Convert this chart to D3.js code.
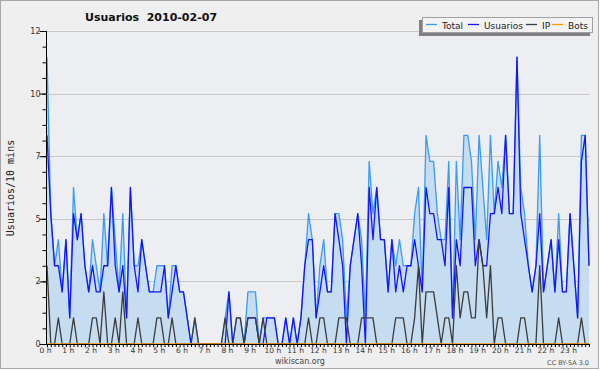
<!DOCTYPE html>
<html>
<head>
<meta charset="utf-8">
<script src="https://cdn.jsdelivr.net/npm/d3@7"></script>
<style>
  body { margin: 0; background: #ffffff; }
  svg text { font-family: "DejaVu Sans", sans-serif; }
</style>
</head>
<body>
<div id="chart"></div>
<script>
// one value every 10 minutes, 144 per day
const total = [
  11, 5, 3, 4, 2, 4, 1, 6, 4, 5,  3, 2, 4, 3, 2, 5, 3, 6, 4, 2,
  5, 1, 6, 3, 3, 4, 3, 2, 2, 3,  3, 3, 1, 3, 3, 2, 2, 1, 0, 1,
  0, 0, 0, 0, 0, 0, 0, 1, 2, 0,  1, 1, 0, 2, 2, 2, 0, 1, 1, 1,
  1, 0, 0, 1, 0, 1, 0, 1, 3, 5,  4, 1, 3, 4, 2, 2, 5, 5, 4, 1,
  3, 4, 5, 4, 1, 7, 5, 6, 4, 4,  2, 4, 3, 4, 3, 3, 3, 5, 6, 2,
  8, 7, 7, 5, 4, 4, 7, 1, 7, 4,  8, 8, 7, 4, 8, 6, 4, 8, 5, 7,
  6, 8, 5, 5, 11, 6, 5, 3, 2, 3,  8, 2, 3, 4, 2, 5, 2, 2, 5, 3,
  1, 8, 8, 3
];
const usuarios = [
  8, 5, 3, 3, 2, 4, 1, 5, 4, 5,  3, 2, 3, 2, 2, 3, 3, 6, 3, 2,
  3, 1, 6, 3, 2, 4, 3, 2, 2, 2,  2, 3, 1, 2, 3, 2, 2, 1, 0, 0,
  0, 0, 0, 0, 0, 0, 0, 0, 2, 0,  0, 0, 0, 1, 1, 1, 0, 0, 1, 1,
  1, 0, 0, 1, 0, 1, 0, 1, 3, 4,  4, 1, 2, 3, 2, 2, 5, 4, 3, 0,
  3, 4, 5, 3, 0, 6, 4, 6, 4, 4,  2, 4, 2, 3, 2, 3, 3, 4, 3, 2,
  6, 5, 5, 4, 4, 3, 6, 1, 4, 3,  6, 6, 6, 3, 4, 3, 3, 5, 5, 6,
  5, 8, 5, 5, 11, 5, 4, 3, 2, 3,  5, 2, 3, 4, 2, 4, 2, 2, 5, 3,
  1, 7, 8, 3
];
const ip = [
  3, 0, 0, 1, 0, 0, 0, 1, 0, 0,  0, 0, 1, 1, 0, 2, 0, 0, 1, 0,
  2, 0, 0, 0, 1, 0, 0, 0, 0, 1,  1, 0, 0, 1, 0, 0, 0, 0, 0, 1,
  0, 0, 0, 0, 0, 0, 0, 1, 0, 0,  1, 1, 0, 1, 1, 1, 0, 1, 0, 0,
  0, 0, 0, 0, 0, 0, 0, 0, 0, 1,  0, 0, 1, 1, 0, 0, 0, 1, 1, 1,
  0, 0, 0, 1, 1, 1, 1, 0, 0, 0,  0, 0, 1, 1, 1, 0, 0, 1, 3, 0,
  2, 2, 2, 1, 0, 1, 1, 0, 3, 1,  2, 2, 1, 1, 4, 3, 1, 3, 0, 1,
  1, 0, 0, 0, 0, 1, 1, 0, 0, 0,  3, 0, 0, 0, 0, 1, 0, 0, 0, 0,
  0, 1, 0, 0
];
const bots = [
  0, 0, 0, 0, 0, 0, 0, 0, 0, 0,  0, 0, 0, 0, 0, 0, 0, 0, 0, 0,
  0, 0, 0, 0, 0, 0, 0, 0, 0, 0,  0, 0, 0, 0, 0, 0, 0, 0, 0, 0,
  0, 0, 0, 0, 0, 0, 0, 0, 0, 0,  0, 0, 0, 0, 0, 0, 0, 0, 0, 0,
  0, 0, 0, 0, 0, 0, 0, 0, 0, 0,  0, 0, 0, 0, 0, 0, 0, 0, 0, 0,
  0, 0, 0, 0, 0, 0, 0, 0, 0, 0,  0, 0, 0, 0, 0, 0, 0, 0, 0, 0,
  0, 0, 0, 0, 0, 0, 0, 0, 0, 0,  0, 0, 0, 0, 0, 0, 0, 0, 0, 0,
  0, 0, 0, 0, 0, 0, 0, 0, 0, 0,  0, 0, 0, 0, 0, 0, 0, 0, 0, 0,
  0, 0, 0, 0
];
const hourLabels = ["0 h", "1 h", "2 h", "3 h", "4 h", "5 h", "6 h", "7 h", "8 h", "9 h", "10 h", "11 h",
  "12 h", "13 h", "14 h", "15 h", "16 h", "17 h", "18 h", "19 h", "20 h", "21 h", "22 h", "23 h"];
const yTickValues = [0, 2.4, 4.8, 7.2, 9.6, 12];
const yTickLabels = ["0", "2", "5", "7", "10", "12"];
const legendNames = ["Total", "Usuarios", "IP", "Bots"];

const width = 600;
const height = 370;
const colours = { Total: "#3a9cf5", Usuarios: "#1414ff", IP: "#3c3c3c", Bots: "#ff9900" };

const svg = d3.select("#chart").append("svg")
    .attr("width", width)
    .attr("height", height)

// outer frame
svg.append("rect")
    .attr("x", 0.5).attr("y", 0.5)
    .attr("width", 598).attr("height", 368)
    .attr("fill", "#efefef")
    .attr("stroke", "#a8a8a8")

const plotLeft = 46.5, plotRight = 590, plotTop = 31, plotBottom = 344;

svg.append("rect")
    .attr("x", plotLeft).attr("y", plotTop)
    .attr("width", plotRight - plotLeft).attr("height", plotBottom - plotTop)
    .attr("fill", "#eceef1")

const x = d3.scaleLinear().domain([0, 143]).range([47, 589]);
const y = d3.scaleLinear().domain([0, 12]).range([plotBottom, plotTop]);

// grid lines
svg.append("g")
    .selectAll("line")
    .data(yTickValues.slice(1))
    .join("line")
    .attr("x1", plotLeft).attr("x2", plotRight)
    .attr("y1", d => Math.round(y(d)) + 0.5)
    .attr("y2", d => Math.round(y(d)) + 0.5)
    .attr("stroke", "#c8c8c8")

// filled area under Total
svg.append("path")
    .datum(total)
    .attr("fill", "#c6dcf0")
    .attr("d", d3.area().x((d, i) => x(i)).y0(y(0)).y1(d => y(d)))

const line = d3.line().x((d, i) => x(i)).y(d => y(d));
const series = [["Total", total], ["Usuarios", usuarios], ["IP", ip], ["Bots", bots]];
svg.append("g")
    .selectAll("path")
    .data(series)
    .join("path")
    .attr("fill", "none")
    .attr("stroke", d => colours[d[0]])
    .attr("stroke-width", 1.3)
    .attr("stroke-linejoin", "round")
    .attr("d", d => line(d[1]))

// y axis
const yAxis = svg.append("g")
    .attr("transform", `translate(${plotLeft},0)`)
    .call(d3.axisLeft(y).tickValues(yTickValues).tickSize(7).tickFormat((d, i) => yTickLabels[i]))
yAxis.call(g => g.select(".domain").remove())
yAxis.selectAll("text").attr("font-size", 8).attr("fill", "#333").attr("x", -6)
yAxis.selectAll("line").attr("stroke", "#000")

const yMinor = d3.range(0, 12.01, 0.6);
svg.append("g")
    .attr("transform", `translate(${plotLeft},0)`)
    .call(d3.axisLeft(y).tickValues(yMinor).tickSize(4).tickFormat(""))
    .call(g => g.select(".domain").remove())
    .selectAll("line").attr("stroke", "#000")

// x axis with one tick every 10 minutes
const xAxis = svg.append("g")
    .attr("transform", `translate(0,${plotBottom})`)
    .call(d3.axisBottom(x).tickValues(d3.range(0, 144)).tickSize(3).tickFormat(""))
xAxis.call(g => g.select(".domain").remove())
xAxis.selectAll("line").attr("stroke", "#000")

svg.append("g")
    .selectAll("text")
    .data(hourLabels)
    .join("text")
    .attr("x", (d, i) => x(i * 6) - 1.5)
    .attr("y", 353)
    .attr("text-anchor", "middle")
    .attr("font-size", 7.5)
    .attr("fill", "#333")
    .text(d => d)

svg.append("line")
    .attr("x1", plotLeft).attr("x2", plotRight)
    .attr("y1", plotBottom + 0.5).attr("y2", plotBottom + 0.5)
    .attr("stroke", "#000")
svg.append("line")
    .attr("x1", plotLeft).attr("x2", plotLeft)
    .attr("y1", plotTop).attr("y2", plotBottom + 1)
    .attr("stroke", "#000")

// titles
svg.append("text")
    .attr("x", 85).attr("y", 21)
    .attr("font-size", 11)
    .attr("font-weight", "bold")
    .attr("fill", "#111")
    .style("white-space", "pre")
    .text("Usuarios  2010-02-07")

svg.append("text")
    .attr("transform", "translate(14,188) rotate(-90)")
    .attr("text-anchor", "middle")
    .attr("font-size", 10)
    .style("font-family", "'DejaVu Sans Mono', monospace")
    .attr("fill", "#222")
    .text("Usuarios/10 mins")

svg.append("text")
    .attr("x", 300).attr("y", 364)
    .attr("text-anchor", "middle")
    .attr("font-size", 8)
    .attr("fill", "#444")
    .text("wikiscan.org")

svg.append("text")
    .attr("x", 589).attr("y", 364.5)
    .attr("text-anchor", "end")
    .attr("font-size", 6.5)
    .attr("fill", "#555")
    .text("CC BY-SA 3.0")

// legend with drop shadow
const legend = svg.append("g")
legend.append("rect")
    .attr("x", 419).attr("y", 20)
    .attr("width", 171).attr("height", 16)
    .attr("fill", "#808080")
legend.append("rect")
    .attr("x", 422.5).attr("y", 17.5)
    .attr("width", 170).attr("height", 15)
    .attr("fill", "#f3f3f3")
    .attr("stroke", "#a0a0a0")

const legendX = [426, 468, 526, 552];
legendNames.forEach((name, i) => {
    legend.append("line")
        .attr("x1", legendX[i]).attr("x2", legendX[i] + 11)
        .attr("y1", 24.5).attr("y2", 24.5)
        .attr("stroke", colours[name])
        .attr("stroke-width", 1.3)
    legend.append("text")
        .attr("x", legendX[i] + 16).attr("y", 28.5)
        .attr("font-size", 9)
        .attr("fill", "#222")
        .text(name)
})
</script>
</body>
</html>
